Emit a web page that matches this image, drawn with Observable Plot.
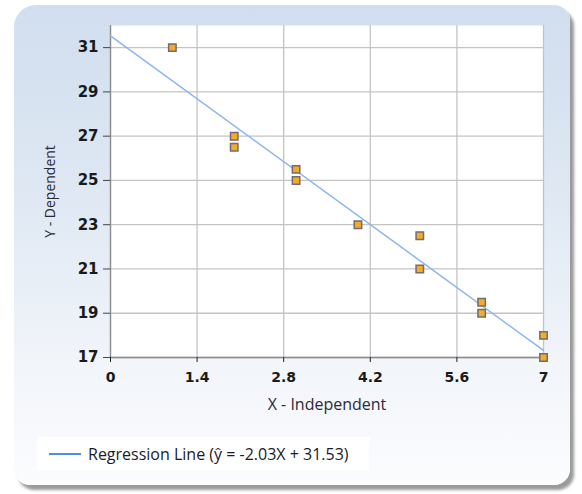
<!DOCTYPE html>
<html>
<head>
<meta charset="utf-8">
<script src="https://cdn.jsdelivr.net/npm/d3@7"></script>
<script src="https://cdn.jsdelivr.net/npm/@observablehq/plot@0.6"></script>
<style>
  html, body { margin: 0; padding: 0; background: #ffffff; }
  #wrap { position: relative; width: 582px; height: 494px; overflow: hidden; }
  #panel {
    position: absolute; left: 14px; top: 5px; width: 556px; height: 480px;
    border-radius: 22px 16px 16px 16px;
    background: linear-gradient(to bottom, #d1deef 0%, #dfe8f3 40%, #f2f5fa 75%, #fbfcfe 100%);
    box-shadow: 4px 5px 3px rgba(120,120,120,0.75);
  }
  #chart { position: absolute; left: 0; top: 0; }
  #legend {
    position: absolute; left: 37px; top: 437px; width: 332px; height: 33px;
    background: #ffffff; display: flex; align-items: center;
    font-family: "Open Sans", "Noto Sans", sans-serif; font-size: 16px; color: #1a1a2a;
  }
  #legend .sw { width: 32px; height: 0; border-top: 2px solid #4a8fe8; margin-left: 12px; margin-right: 7px; }
</style>
</head>
<body>
<div id="wrap">
  <div id="panel"></div>
  <div id="chart"></div>
  <div id="legend"><span class="sw"></span><span id="legendText"></span></div>
</div>
<script>
const xs = [1, 2, 2, 3, 3, 4, 5, 5, 6, 6, 7, 7];
const ys = [31, 27, 26.5, 25.5, 25, 23, 22.5, 21, 19.5, 19, 18, 17];
const xTicks = [0, 1.4, 2.8, 4.2, 5.6, 7];
const yTicks = [17, 19, 21, 23, 25, 27, 29, 31];
const slope = -2.03;
const intercept = 31.53;
const lineXs = [0, 7];
const legendLabel = "Regression Line (ŷ = -2.03X + 31.53)";
const xLabel = "X - Independent";
const yLabel = "Y - Dependent";

const points = xs.map((x, i) => ({x, y: ys[i]}));
const linePts = lineXs.map(x => ({x, y: intercept + slope * x}));

const chart = Plot.plot({
  width: 582,
  height: 494,
  marginLeft: 110,
  marginRight: 39,
  marginTop: 25,
  marginBottom: 137,
  style: { background: "transparent", fontFamily: "DejaVu Sans, sans-serif", overflow: "visible" },
  x: { domain: [0, 7], ticks: xTicks, label: null },
  y: { domain: [17, 32], ticks: yTicks, label: null },
  marks: [
    Plot.frame({ fill: "white", stroke: null }),
    Plot.ruleX(xTicks, { stroke: "#c4c4c4", strokeWidth: 1.3 }),
    Plot.ruleY(yTicks, { stroke: "#c4c4c4", strokeWidth: 1.3 }),
    Plot.ruleX([0], { stroke: "#8a8a8a", strokeWidth: 1.3 }),
    Plot.ruleY([17], { stroke: "#8a8a8a", strokeWidth: 1.3 }),
    Plot.axisY({ ticks: yTicks, tickSize: 7, tickPadding: 5, fontSize: 15, fontWeight: "bold", stroke: "#444", fill: "#1a1a1a", tickFormat: d => String(d), label: null }),
    Plot.axisX({ ticks: xTicks, tickSize: 5, tickPadding: 10, fontSize: 14, fontWeight: "bold", stroke: "#222", fill: "#1a1a1a", tickFormat: d => String(d), label: null }),
    Plot.line(linePts, { x: "x", y: "y", stroke: "#8ab6ef", strokeWidth: 1.5 }),
    Plot.dot(points, { x: "x", y: "y", symbol: "square", r: 4.2, fill: "#f8a928", stroke: "#6e6e6e", strokeWidth: 1.5 }),
    Plot.text([xLabel], { frameAnchor: "bottom", dy: 52, text: d => d, fontSize: 16, fill: "#2a2a3a", fontFamily: "Open Sans, Noto Sans, sans-serif" }),
    Plot.text([yLabel], { frameAnchor: "left", textAnchor: "middle", dx: -60, rotate: -90, text: d => d, fontSize: 14, fill: "#2a2a3a", fontFamily: "Open Sans, Noto Sans, sans-serif" })
  ]
});
document.getElementById("chart").appendChild(chart);
document.getElementById("legendText").textContent = legendLabel;
</script>
</body>
</html>
